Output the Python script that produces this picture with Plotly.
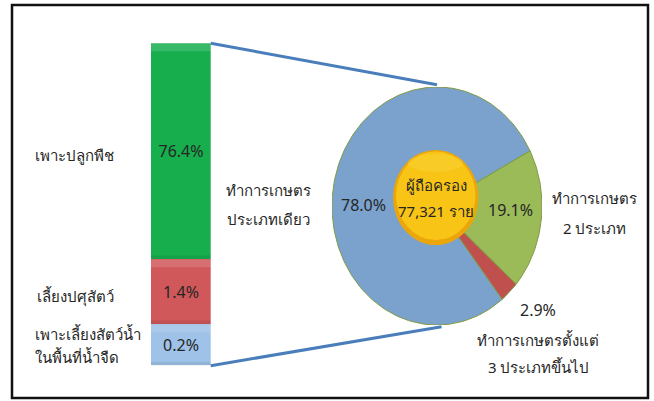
import math
import plotly.graph_objects as go

W, H = 654, 401

# left bar: holders doing a single type of farming, by activity
bar_labels = ['เพาะปลูกพืช', 'เลี้ยงปศุสัตว์', 'เพาะเลี้ยงสัตว์น้ำ<br>ในพื้นที่น้ำจืด']
bar_pct = [76.4, 1.4, 0.2]
bar_size = [216.0, 65.0, 41.4]   # segment heights as drawn (the bar is not to scale)
bar_colors = ['#17AE4E', '#D0585A', '#9EC2E8']

# pie: holders by number of farming types
pie_labels = ['ทำการเกษตร<br>ประเภทเดียว', 'ทำการเกษตร<br>2 ประเภท', 'ทำการเกษตรตั้งแต่<br>3 ประเภทขึ้นไป']
pie_pct = [78.0, 19.1, 2.9]
pie_colors = ['#7BA2CD', '#9BBB59', '#C0504D']
holders = 77321

FONT = "Tahoma, 'Noto Sans', 'DejaVu Sans', sans-serif"
TXT = '#262626'


def px(x):
    return x / W


def py(y):
    return 1 - y / H


# where things sit on the page (pixels)
bar_box = (151, 210.7, 43.3, 365.7)     # x0, x1, ytop, ybottom
pie_box = (332, 542, 87, 325)

fig = go.Figure()

# stacked bar, bottom segment first
for i in reversed(range(len(bar_pct))):
    fig.add_trace(go.Bar(x=[0], y=[bar_size[i]], width=1, marker_color=bar_colors[i],
                         marker_line_width=0, text=[f'{bar_pct[i]:.1f}%'],
                         textposition='inside', insidetextanchor='middle', textangle=0,
                         textfont=dict(family=FONT, size=16, color=TXT),
                         hoverinfo='skip', showlegend=False, xaxis='x', yaxis='y'))

# pie drawn as wedges on a stretched axis, so it comes out as an ellipse
start = -51.6
ang = start
for i, p in enumerate(pie_pct):
    span = p / 100 * 360
    n = max(4, int(span))
    xs, ys = [0], [0]
    for k in range(n + 1):
        a = math.radians(ang - span * k / n)
        xs.append(math.cos(a))
        ys.append(math.sin(a))
    xs.append(0)
    ys.append(0)
    fig.add_trace(go.Scatter(x=xs, y=ys, fill='toself', fillcolor=pie_colors[i], mode='lines',
                             line=dict(color='#7E9A44', width=1), hoverinfo='skip',
                             showlegend=False, xaxis='x2', yaxis='y2'))
    ang -= span

shapes = []
# a bit of bevel on the bar segments, like the original
seg_top = bar_box[2]
for i, s in enumerate(bar_size):
    shapes.append(dict(type='rect', xref='paper', yref='paper',
                       x0=px(bar_box[0]), x1=px(bar_box[1]), y0=py(seg_top + 8), y1=py(seg_top),
                       fillcolor='white', opacity=0.14, line=dict(width=0)))
    shapes.append(dict(type='rect', xref='paper', yref='paper',
                       x0=px(bar_box[0]), x1=px(bar_box[1]), y0=py(seg_top + s), y1=py(seg_top + s - 4),
                       fillcolor='black', opacity=0.07, line=dict(width=0)))
    seg_top += s

# connectors from the bar to the pie
shapes.append(dict(type='line', xref='paper', yref='paper',
                   x0=px(bar_box[1]), y0=py(bar_box[2]),
                   x1=px((pie_box[0] + pie_box[1]) / 2), y1=py(pie_box[2] - 2.3),
                   line=dict(color='#4A7EBB', width=3)))
shapes.append(dict(type='line', xref='paper', yref='paper',
                   x0=px(bar_box[1]), y0=py(bar_box[3]),
                   x1=px((pie_box[0] + pie_box[1]) / 2 + 4.5), y1=py(pie_box[3] + 1.7),
                   line=dict(color='#4A7EBB', width=3)))
# gold disc in the middle of the pie
shapes.append(dict(type='circle', xref='paper', yref='paper',
                   x0=px(393), x1=px(478.5), y0=py(245), y1=py(150),
                   fillcolor='#EBA60C', line=dict(width=0)))
shapes.append(dict(type='circle', xref='paper', yref='paper',
                   x0=px(396), x1=px(475.5), y0=py(240), y1=py(151.5),
                   fillcolor='#F8C516', line=dict(width=0)))
shapes.append(dict(type='circle', xref='paper', yref='paper',
                   x0=px(408), x1=px(463), y0=py(172), y1=py(154),
                   fillcolor='#FBD748', opacity=0.35, line=dict(width=0)))
# frame
shapes.append(dict(type='rect', xref='paper', yref='paper',
                   x0=px(12), x1=px(648), y0=py(398), y1=py(5),
                   line=dict(color='#111111', width=2.5)))

ann = []


def label(x, y, text, anchor='center', size=15, gap=0):
    # multi-line labels are set one line at a time so the line gap can follow the original
    for j, line in enumerate(text.split('<br>')):
        ann.append(dict(x=px(x), y=py(y + j * gap), xref='paper', yref='paper', text=line,
                        showarrow=False, xanchor=anchor, yanchor='middle', align=anchor,
                        font=dict(family=FONT, size=size, color=TXT)))


label(33, 155, bar_labels[0], 'left')
label(35, 296, bar_labels[1], 'left')
label(33, 334, bar_labels[2], 'left', gap=23)

label(268, 190, pie_labels[0], gap=29)
label(594, 198, pie_labels[1], gap=30)
label(538, 340, pie_labels[2], gap=27)

label(363, 205, f'{pie_pct[0]:.1f}%', size=16)
label(510, 210, f'{pie_pct[1]:.1f}%', size=16)
label(538, 310, f'{pie_pct[2]:.1f}%', size=16)

label(436, 185, 'ผู้ถือครอง', size=15)
label(436, 211, f'{holders:,} ราย', size=15)

hidden = dict(visible=False, showgrid=False, zeroline=False, fixedrange=True)
fig.update_layout(
    width=W, height=H, autosize=False,
    margin=dict(l=0, r=0, t=0, b=0),
    paper_bgcolor='white', plot_bgcolor='white',
    barmode='stack', bargap=0,
    xaxis=dict(hidden, domain=[px(bar_box[0]), px(bar_box[1])], range=[-0.5, 0.5]),
    yaxis=dict(hidden, domain=[py(bar_box[3]), py(bar_box[2])], range=[0, sum(bar_size)]),
    xaxis2=dict(hidden, domain=[px(pie_box[0]), px(pie_box[1])], range=[-1, 1], anchor='y2'),
    yaxis2=dict(hidden, domain=[py(pie_box[3]), py(pie_box[2])], range=[-1, 1], anchor='x2'),
    shapes=shapes, annotations=ann,
)

fig.write_html("out.html", config={'displayModeBar': False},
               post_script="document.body.style.margin='0';document.body.style.overflow='hidden';")
